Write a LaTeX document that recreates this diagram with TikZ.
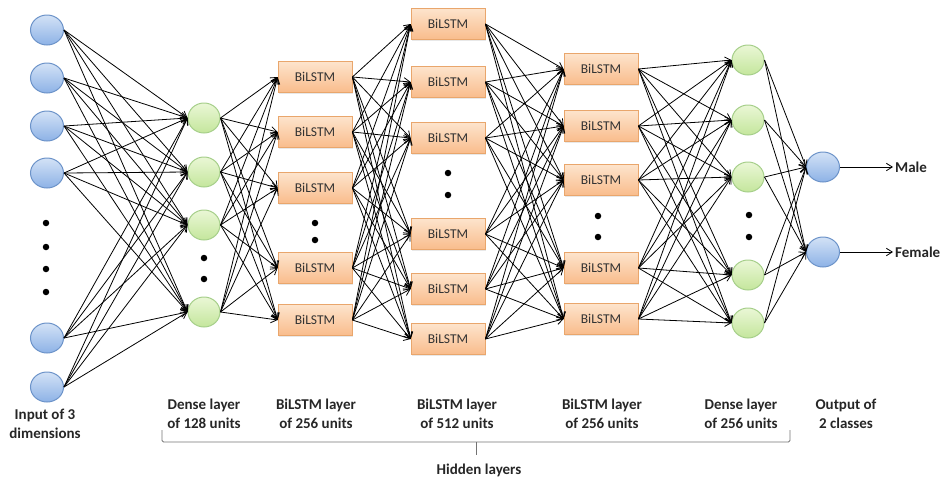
\documentclass[tikz,border=0pt]{standalone}
\usepackage{fontspec}
\setmainfont{Carlito}
\usetikzlibrary{arrows.meta,shapes.geometric,shadows}

\definecolor{bluetop}{HTML}{D3E2F6}
\definecolor{bluebot}{HTML}{8DB2E6}
\definecolor{blueedge}{HTML}{6C93C9}
\definecolor{greentop}{HTML}{EAF7D6}
\definecolor{greenbot}{HTML}{C4E69C}
\definecolor{greenedge}{HTML}{A6CF8A}
\definecolor{orangetop}{HTML}{FDE4CC}
\definecolor{orangebot}{HTML}{F9BC8C}
\definecolor{orangeedge}{HTML}{E9A66C}

\begin{document}
\begin{tikzpicture}[x=1pt,y=-1pt,
  unitblue/.style={ellipse, draw=blueedge, line width=1pt, top color=bluetop,
    bottom color=bluebot, minimum width=33pt, minimum height=30pt, inner sep=0pt},
  unitgreen/.style={ellipse, draw=greenedge, line width=1pt, top color=greentop,
    bottom color=greenbot, minimum width=32pt, minimum height=30pt, inner sep=0pt},
  cell/.style={rectangle, draw=orangeedge, line width=0.8pt, top color=orangetop,
    bottom color=orangebot, minimum width=74pt, minimum height=31pt, inner sep=0pt,
    font=\fontsize{13.5}{16}\selectfont, text=black!80,
    drop shadow={opacity=0.18, shadow xshift=1.2pt, shadow yshift=-1.2pt}},
  link/.style={-{Straight Barb[length=6pt,width=7.5pt]}, line width=0.8pt, black},
  dot/.style={circle, fill=black, inner sep=0pt, minimum size=6.5pt},
  caption/.style={align=center, font=\fontsize{15}{19}\bfseries\selectfont,
    text=black!85, inner sep=0pt},
  bracket/.style={draw=black!55, line width=0.9pt, rounded corners=1.5pt}
]
\useasboundingbox (0,0) rectangle (940,480);

% input units
\foreach \n/\y in {1/30,2/78,3/126,4/173,5/338,6/387}
  \node[unitblue] (i\n) at (47,\y) {};
\foreach \k/\y in {1/223,2/247,3/269,4/292}
  \node[dot] (idot\k) at (46,\y) {};

% first dense layer
\foreach \n/\y in {1/118,2/172,3/225,4/312}
  \node[unitgreen] (d\n) at (204,\y) {};
\foreach \k/\y in {1/258,2/279}
  \node[dot] (ddot\k) at (204,\y) {};

% first BiLSTM layer
\foreach \n/\y in {1/77,2/132,3/188,4/268,5/320}
  \node[cell] (a\n) at (315,\y) {BiLSTM};
\foreach \k/\y in {1/223,2/240}
  \node[dot] (adot\k) at (315,\y) {};

% second BiLSTM layer
\foreach \n/\y in {1/24,2/82,3/138,4/234,5/289,6/339}
  \node[cell] (b\n) at (448,\y) {BiLSTM};
\foreach \k/\y in {1/173,2/195}
  \node[dot] (bdot\k) at (448,\y) {};

% third BiLSTM layer
\foreach \n/\y in {1/69,2/126,3/180,4/268,5/319}
  \node[cell] (c\n) at (601,\y) {BiLSTM};
\foreach \k/\y in {1/216,2/237}
  \node[dot] (cdot\k) at (598,\y) {};

% second dense layer
\foreach \n/\y in {1/60,2/120,3/177,4/275,5/323}
  \node[unitgreen] (e\n) at (748,\y) {};
\foreach \k/\y in {1/215,2/237}
  \node[dot] (edot\k) at (749,\y) {};

% output units
\node[unitblue] (o1) at (823,167) {};
\node[unitblue] (o2) at (823,252) {};

% fully connected links between consecutive layers
\foreach \s in {1,...,6} \foreach \t in {1,...,4}
  \draw[link] (i\s.east) -- (d\t.west);
\foreach \s in {1,...,4} \foreach \t in {1,...,5}
  \draw[link] (d\s.east) -- (a\t.west);
\foreach \s in {1,...,5} \foreach \t in {1,...,6}
  \draw[link] (a\s.east) -- (b\t.west);
\foreach \s in {1,...,6} \foreach \t in {1,...,5}
  \draw[link] (b\s.east) -- (c\t.west);
\foreach \s in {1,...,5} \foreach \t in {1,...,5}
  \draw[link] (c\s.east) -- (e\t.west);
\foreach \s in {1,...,5} \foreach \t in {1,2}
  \draw[link] (e\s.east) -- (o\t.west);

% class outputs
\node[caption, anchor=west, inner sep=2pt] (male) at (893,167) {Male};
\node[caption, anchor=west, inner sep=2pt] (female) at (893,252) {Female};
\draw[link] (o1.east) -- (male.west);
\draw[link] (o2.east) -- (female.west);

% layer captions
\node[caption] (capin)  at (45,424)  {Input of 3\\dimensions};
\node[caption] (capd1)  at (204,414) {Dense layer\\of 128 units};
\node[caption] (capa)   at (316,414) {BiLSTM layer\\of 256 units};
\node[caption] (capb)   at (457,414) {BiLSTM layer\\of 512 units};
\node[caption] (capc)   at (602,414) {BiLSTM layer\\of 256 units};
\node[caption] (capd2)  at (741,414) {Dense layer\\of 256 units};
\node[caption] (capout) at (846,414) {Output of\\2 classes};

% bracket grouping the hidden layers
\coordinate (brL) at (162,430);
\coordinate (brR) at (790,430);
\coordinate (brM) at (476,442);
\draw[bracket] (brL) -- (162,442) -- (790,442) -- (brR);
\draw[bracket] (brM) -- (476,455);
\node[caption] (hidden) at (479,470) {Hidden layers};
\end{tikzpicture}
\end{document}
